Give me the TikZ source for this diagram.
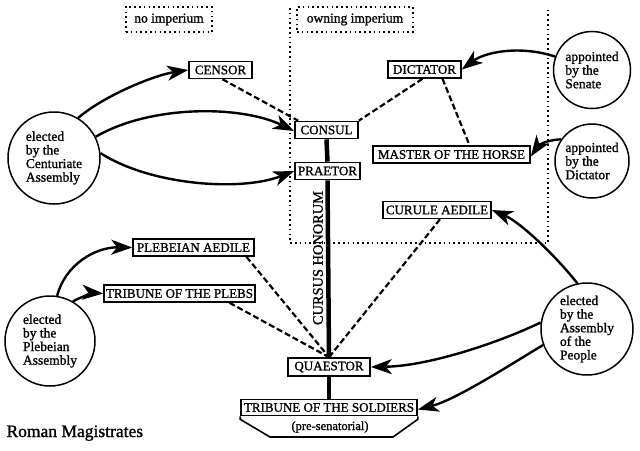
\documentclass[tikz,border=0pt]{standalone}
\usepackage{fontspec}
\setmainfont{Liberation Serif}[FakeBold=1.2]
\usetikzlibrary{arrows.meta}
\begin{document}
\begin{tikzpicture}[x=1pt,y=-1pt,
  office/.style={draw,line width=1.6pt,inner xsep=2pt,inner ysep=1pt,minimum height=17pt,font=\fontsize{13}{14}\selectfont},
  body/.style={draw,circle,line width=1.5pt,inner sep=0pt,align=left,font=\fontsize{13.5}{13.6}\selectfont},
  elect/.style={line width=2.4pt,-{Stealth[length=21pt,width=15pt,inset=6pt]}},
  link/.style={line width=2.2pt,dash pattern=on 6pt off 3pt},
  honor/.style={line width=4.5pt},
  dotline/.style={line width=2.2pt,dash pattern=on 1.6pt off 3.2pt},
  tag/.style={draw,dotline,minimum height=25pt,inner xsep=4pt,font=\fontsize{13.5}{14}\selectfont}]
\useasboundingbox (0,0) rectangle (640,450);
\fill[white] (0,0) rectangle (640,450);

% imperium region
\draw[dotline] (290,8) -- (290,243) -- (548,243) -- (548,10);
\node[tag,minimum width=86pt] (noimp) at (169,19.5) {no imperium};
\node[tag,minimum width=116pt] (ownimp) at (355,19.5) {owning imperium};

% offices
\node[office,minimum width=63pt] (censor) at (220.5,70) {CENSOR};
\node[office,minimum width=63pt] (consul) at (326.5,130) {CONSUL};
\node[office,minimum width=65pt] (praetor) at (327.5,171) {PRAETOR};
\node[office,minimum width=73pt] (dictator) at (424.5,69.5) {DICTATOR};
\node[office,minimum width=157pt] (master) at (451.5,154.5) {MASTER OF THE HORSE};
\node[office,minimum width=108pt] (curule) at (437,210) {CURULE AEDILE};
\node[office,minimum width=121pt] (plaed) at (193.5,247.5) {PLEBEIAN AEDILE};
\node[office,minimum width=149pt] (trpl) at (179.5,293.5) {TRIBUNE OF THE PLEBS};
\node[office,minimum width=82pt,minimum height=18pt] (quaestor) at (329,367) {QUAESTOR};
\node[office,minimum width=176pt,minimum height=16pt] (soldiers) at (329,407.5) {TRIBUNE OF THE SOLDIERS};
\draw[line width=1.6pt,line join=miter] (soldiers.south west) -- ++(0,3) -- (270,437) -- (393,437) -- ([yshift=-3pt]soldiers.south east) -- (soldiers.south east);
\node[font=\fontsize{12.5}{13}\selectfont] (presen) at (330,427) {(pre-senatorial)};

% electing bodies
\node[body,minimum size=92pt] (cent) at (54,158) {elected\\by the\\Centuriate\\Assembly};
\node[body,minimum size=77pt] (senate) at (592,70) {appointed\\by the\\Senate};
\node[body,minimum size=74pt] (dictc) at (592,161) {appointed\\by the\\Dictator};
\node[body,minimum size=90pt] (pleb) at (50,341) {elected\\by the\\Plebeian\\Assembly};
\node[body,minimum size=92pt] (people) at (587,329) {elected\\by the\\Assembly\\of the\\People};

% cursus honorum
\draw[honor] (consul.south) -- (praetor.north);
\draw[honor] (praetor.south) -- (quaestor.north);
\draw[honor] (quaestor.south) -- (soldiers.north);
\node[rotate=90,font=\fontsize{14.4}{15}\selectfont] (cursus) at (318,258) {CURSUS HONORUM};
\coordinate (qtop) at (quaestor.north);
\fill (qtop) ++(0,-2) circle (2.8pt);

% dashed links
\draw[link] ([xshift=2pt]censor.south) -- ([xshift=4pt]consul.north west);
\draw[link] ([xshift=-2pt]dictator.south) -- (consul.north east);
\draw[link] ([xshift=18pt]dictator.south) -- ([xshift=18pt]master.north);
\draw[link] ([xshift=53pt]plaed.south) -- (qtop);
\draw[link] ([xshift=50pt]trpl.south) -- (qtop);
\draw[link] ([xshift=3pt]curule.south) -- (qtop);

% elections / appointments
\draw[elect] (cent.59) .. controls (105,95) and (155,75) .. (censor.west);
\draw[elect] (cent.27) .. controls (150,105) and (240,105) .. ([yshift=-1pt]consul.west);
\draw[elect] (cent.6) .. controls (150,185) and (240,192) .. (praetor.west);
\draw[elect] (senate.160) .. controls (520,45) and (485,52) .. (dictator.east);
\draw[elect] (dictc.145) .. controls (545,140) and (538,146) .. ([yshift=-2pt]master.east);
\draw[elect] (people.102) .. controls (555,255) and (520,222) .. (curule.east);
\draw[elect] (people.172) .. controls (500,342) and (430,366) .. (quaestor.east);
\draw[elect] (people.200) .. controls (505,368) and (455,400) .. ([yshift=-2pt]soldiers.east);
\draw[elect] (pleb.81) .. controls (65,265) and (95,247) .. (plaed.west);
\draw[elect] (pleb.60) .. controls (85,295) and (95,293) .. (trpl.west);

\node[anchor=base west,font=\fontsize{17.5}{18}\selectfont] (title) at (3,437) {Roman Magistrates};
\end{tikzpicture}
\end{document}
